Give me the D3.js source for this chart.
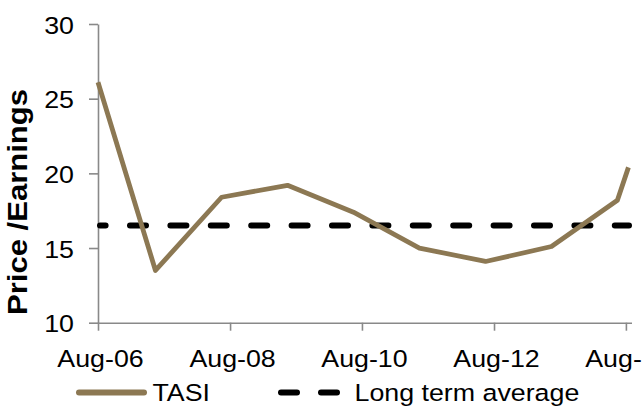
<!DOCTYPE html>
<html>
<head>
<meta charset="utf-8">
<script src="https://cdn.jsdelivr.net/npm/d3@7"></script>
<style>
  body { margin: 0; background: #fff; }
  text { font-family: "Liberation Sans", Arial, sans-serif; fill: #000; }
</style>
</head>
<body>
<div id="chart"></div>
<script>
// values
var dates = ["2006-08-01", "2007-06-15", "2008-06-15", "2009-06-15", "2010-06-15",
             "2011-06-15", "2012-06-15", "2013-06-15", "2014-06-15", "2014-08-15"];
var tasi = [26.1, 13.5, 18.4, 19.2, 17.4, 15.0, 14.1, 15.1, 18.2, 20.4];
var longTermAverage = 16.5;
var yTicks = [10, 15, 20, 25, 30];
var xTickDates = ["2006-08-01", "2008-08-01", "2010-08-01", "2012-08-01", "2014-08-01"];
var seriesNames = ["TASI", "Long term average"];

var width = 643, height = 406;
var lineColor = "#8c7853";
var axisColor = "#898989";
var stretch = 1.15; // text looks wider than plain Arial

var parse = d3.timeParse("%Y-%m-%d");

var svg = d3.select("#chart")
  .append("svg")
  .attr("width", width)
  .attr("height", height);

var x = d3.scaleTime()
  .domain([parse("2006-08-01"), parse("2014-09-01")])
  .range([98, 631.5]);

var y = d3.scaleLinear()
  .domain([10, 30])
  .range([322.7, 24]);

// y axis
var yAxis = svg.append("g")
  .attr("transform", "translate(98,0)")
  .call(d3.axisLeft(y).tickValues(yTicks).tickSize(9).tickSizeOuter(0));

yAxis.selectAll("text")
  .attr("x", null)
  .attr("dy", null)
  .attr("transform", "translate(-24,9) scale(" + stretch + ",1)")
  .style("font-size", "23.3px");

// x axis
var xAxis = svg.append("g")
  .attr("transform", "translate(0,322.7)")
  .call(d3.axisBottom(x)
    .tickValues(xTickDates.map(parse))
    .tickFormat(d3.timeFormat("%b-%y"))
    .tickSize(8)
    .tickSizeOuter(0));

xAxis.selectAll("text")
  .attr("y", null)
  .attr("dy", null)
  .attr("transform", "translate(2,44) scale(" + stretch + ",1)")
  .style("font-size", "23.3px");

svg.selectAll(".domain, .tick line")
  .attr("stroke", axisColor)
  .attr("stroke-width", 1.6);

// axis title
svg.append("text")
  .attr("transform", "translate(27,202) rotate(-90) scale(" + stretch + ",1)")
  .attr("text-anchor", "middle")
  .style("font-size", "27px")
  .style("font-weight", "bold")
  .text("Price /Earnings");

// long term average
var avgY = y(longTermAverage);
svg.append("line")
  .attr("x1", x.range()[0] + 2)
  .attr("x2", x.range()[1] - 2.5)
  .attr("y1", avgY)
  .attr("y2", avgY)
  .attr("stroke", "#000")
  .attr("stroke-width", 6)
  .attr("stroke-linecap", "round")
  .attr("stroke-dasharray", "16,24.4")
  .attr("stroke-dashoffset", 10.4);

// TASI line
var line = d3.line()
  .x(function (d, i) { return x(parse(dates[i])); })
  .y(function (d) { return y(d); });

svg.append("path")
  .datum(tasi)
  .attr("d", line)
  .attr("fill", "none")
  .attr("stroke", lineColor)
  .attr("stroke-width", 4.8)
  .attr("stroke-linejoin", "round");

// legend
var legY = 392.5;
svg.append("line")
  .attr("x1", 79).attr("x2", 144)
  .attr("y1", legY).attr("y2", legY)
  .attr("stroke", lineColor)
  .attr("stroke-width", 6)
  .attr("stroke-linecap", "round");

svg.append("text")
  .attr("transform", "translate(152.5,401) scale(" + stretch + ",1)")
  .style("font-size", "23.3px")
  .text(seriesNames[0]);

svg.append("line")
  .attr("x1", 281).attr("x2", 337)
  .attr("y1", legY).attr("y2", legY)
  .attr("stroke", "#000")
  .attr("stroke-width", 6)
  .attr("stroke-linecap", "round")
  .attr("stroke-dasharray", "16,24");

svg.append("text")
  .attr("transform", "translate(354.5,401) scale(" + stretch + ",1)")
  .style("font-size", "23.3px")
  .text(seriesNames[1]);
</script>
</body>
</html>
